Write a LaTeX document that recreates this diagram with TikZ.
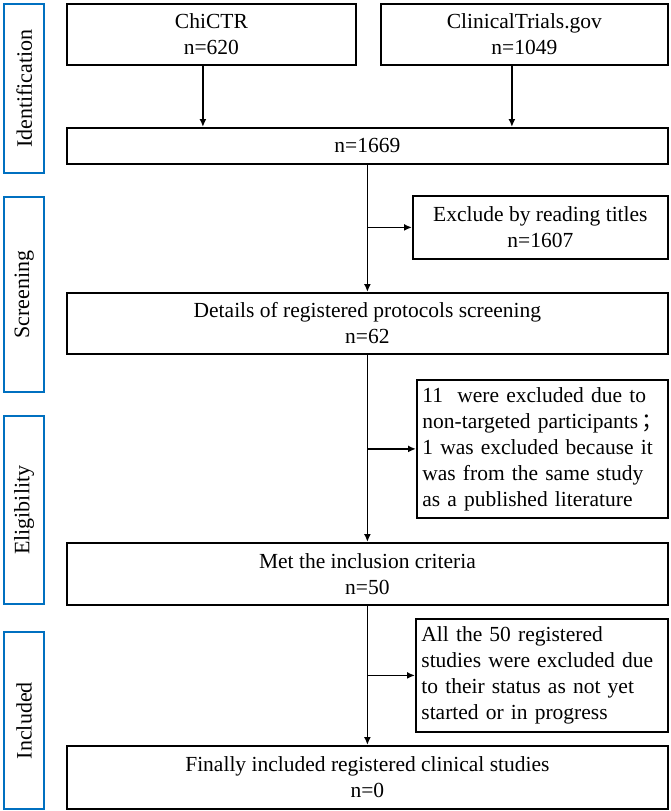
\documentclass[tikz,border=0pt]{standalone}
\usepackage{fontspec}
\setmainfont{Liberation Serif}
\newfontfamily\cjk{Noto Sans CJK SC}
\usetikzlibrary{arrows.meta}
\definecolor{labelblue}{RGB}{0,112,192}
\begin{document}
\begin{tikzpicture}[x=1pt,y=-1pt,
  box/.style={draw=black, line width=1.8pt, anchor=north west, inner sep=0pt, align=center, font=\fontsize{21.5}{26}\selectfont},
  exbox/.style={draw=black, line width=1.8pt, anchor=north west, inner xsep=5.5pt, inner ysep=0pt, align=left, font=\fontsize{21.5}{26}\selectfont},
  stage/.style={draw=labelblue, line width=2.4pt, anchor=north west, minimum width=40pt, inner sep=0pt},
  stagetext/.style={rotate=90, inner sep=0pt, font=\fontsize{22}{26}\selectfont},
  arr/.style={line width=1.8pt, -{Latex[length=8pt,width=7pt]}}]
\useasboundingbox (0,0) rectangle (671,811);

% stage labels
\node[stage, minimum height=169pt] (sid) at (3,3) {};
\node[stagetext] (tid) at (sid.center) {Identification};
\node[stage, minimum height=195pt] (sscr) at (3,196) {};
\node[stagetext] (tscr) at (sscr.center) {Screening};
\node[stage, minimum height=188pt] (selig) at (3,415) {};
\node[stagetext] (telig) at (selig.center) {Eligibility};
\node[stage, minimum height=177pt] (sinc) at (3,631) {};
\node[stagetext] (tinc) at (sinc.center) {Included};

% main boxes
\node[box, minimum width=289pt, minimum height=61pt] (chictr) at (66,3) {ChiCTR\\n=620};
\node[box, minimum width=287pt, minimum height=61pt] (ct) at (380,3) {ClinicalTrials.gov\\n=1049};
\node[box, minimum width=601pt, minimum height=36pt] (n1669) at (66,127) {n=1669};
\node[box, minimum width=255pt, minimum height=63pt] (excl1) at (412,195) {Exclude by reading titles\\n=1607};
\node[box, minimum width=601pt, minimum height=61pt] (details) at (66,292) {Details of registered protocols screening\\n=62};
\node[exbox, text width=240pt, minimum height=138pt] (excl2) at (416,379)
  {11\ \ were excluded due to\\\mbox{non-targeted participants\,{\cjk ；}}\\1 was excluded because it\\was from the same study\\as a published literature};
\node[box, minimum width=601pt, minimum height=62pt] (met) at (66,542) {Met the inclusion criteria\\n=50};
\node[exbox, text width=241pt, minimum height=113pt] (excl3) at (415,618)
  {All the 50 registered\\studies were excluded due\\to their status as not yet\\started or in progress};
\node[box, minimum width=601pt, minimum height=63pt] (final) at (66,745) {Finally included registered clinical studies\\n=0};

% connectors
\draw[arr] ([xshift=-8.5pt]chictr.south) -- ([xshift=-8.5pt]chictr.south |- n1669.north);
\draw[arr] ([xshift=-12.5pt]ct.south) -- ([xshift=-12.5pt]ct.south |- n1669.north);
\draw[arr] (n1669.south) -- (details.north);
\draw[arr] (n1669.south |- excl1.west) -- (excl1.west);
\draw[arr] (details.south) -- (met.north);
\draw[arr] (details.south |- excl2.west) -- (excl2.west);
\draw[arr] (met.south) -- (final.north);
\draw[arr] (met.south |- excl3.west) -- (excl3.west);
\end{tikzpicture}
\end{document}
